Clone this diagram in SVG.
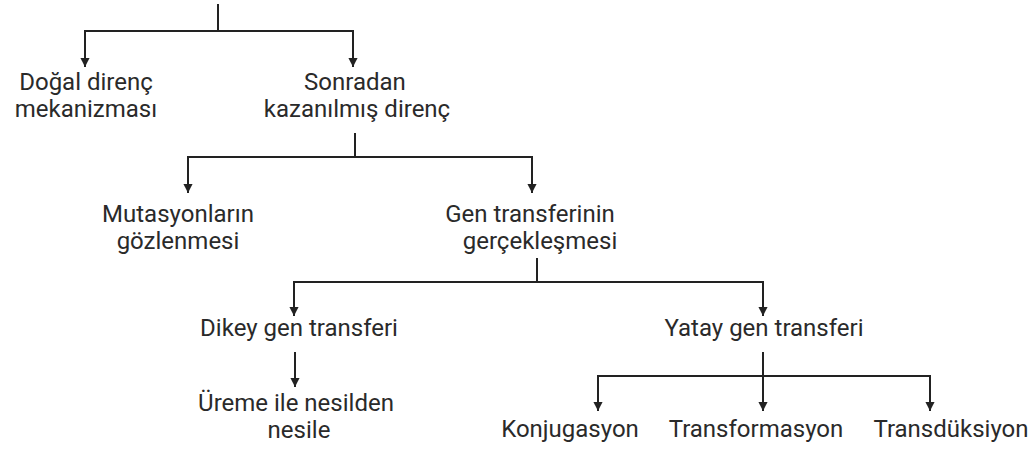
<svg xmlns="http://www.w3.org/2000/svg" width="1035" height="450" viewBox="0 0 1035 450">
<style>
text{font-family:Roboto,"Liberation Sans",sans-serif;font-size:24px;fill:#2a2a2a;text-anchor:middle}
.c{fill:none;stroke:#222;stroke-width:2}
</style>
<defs>
<marker id="ah" viewBox="0 0 10 11" refX="10" refY="5" markerWidth="11" markerHeight="10" markerUnits="userSpaceOnUse" orient="auto">
<path d="M0,0 L10,5 L0,10 z" fill="#222"/>
</marker>
</defs>
<rect width="1035" height="450" fill="#fff"/>
<g id="connectors">
<path class="c" d="M218,4 V31"/>
<path class="c" d="M218,31 H85 V67" marker-end="url(#ah)"/>
<path class="c" d="M218,31 H353 V67" marker-end="url(#ah)"/>
<path class="c" d="M355,133 V157"/>
<path class="c" d="M355,157 H188 V193" marker-end="url(#ah)"/>
<path class="c" d="M355,157 H532 V193" marker-end="url(#ah)"/>
<path class="c" d="M537,258 V282"/>
<path class="c" d="M537,282 H294 V316" marker-end="url(#ah)"/>
<path class="c" d="M537,282 H763 V316" marker-end="url(#ah)"/>
<path class="c" d="M295,352 V387" marker-end="url(#ah)"/>
<path class="c" d="M763,352 V376"/>
<path class="c" d="M763,376 H598 V411" marker-end="url(#ah)"/>
<path class="c" d="M763,376 V411" marker-end="url(#ah)"/>
<path class="c" d="M763,376 H930 V411" marker-end="url(#ah)"/>
</g>
<g id="n-dogal"><text x="86" y="90">Doğal direnç</text><text x="86" y="117">mekanizması</text></g>
<g id="n-sonradan"><text x="355" y="90">Sonradan</text><text x="357" y="117">kazanılmış direnç</text></g>
<g id="n-mutasyon"><text x="178" y="222">Mutasyonların</text><text x="178" y="249">gözlenmesi</text></g>
<g id="n-gen"><text x="530" y="222">Gen transferinin</text><text x="540" y="249">gerçekleşmesi</text></g>
<g id="n-dikey"><text x="299" y="336">Dikey gen transferi</text></g>
<g id="n-yatay"><text x="764" y="336">Yatay gen transferi</text></g>
<g id="n-ureme"><text x="296" y="411">Üreme ile nesilden</text><text x="299" y="438">nesile</text></g>
<g id="n-konj"><text x="570" y="437">Konjugasyon</text></g>
<g id="n-transf"><text x="756" y="437">Transformasyon</text></g>
<g id="n-transd"><text x="951" y="437">Transdüksiyon</text></g>
</svg>
